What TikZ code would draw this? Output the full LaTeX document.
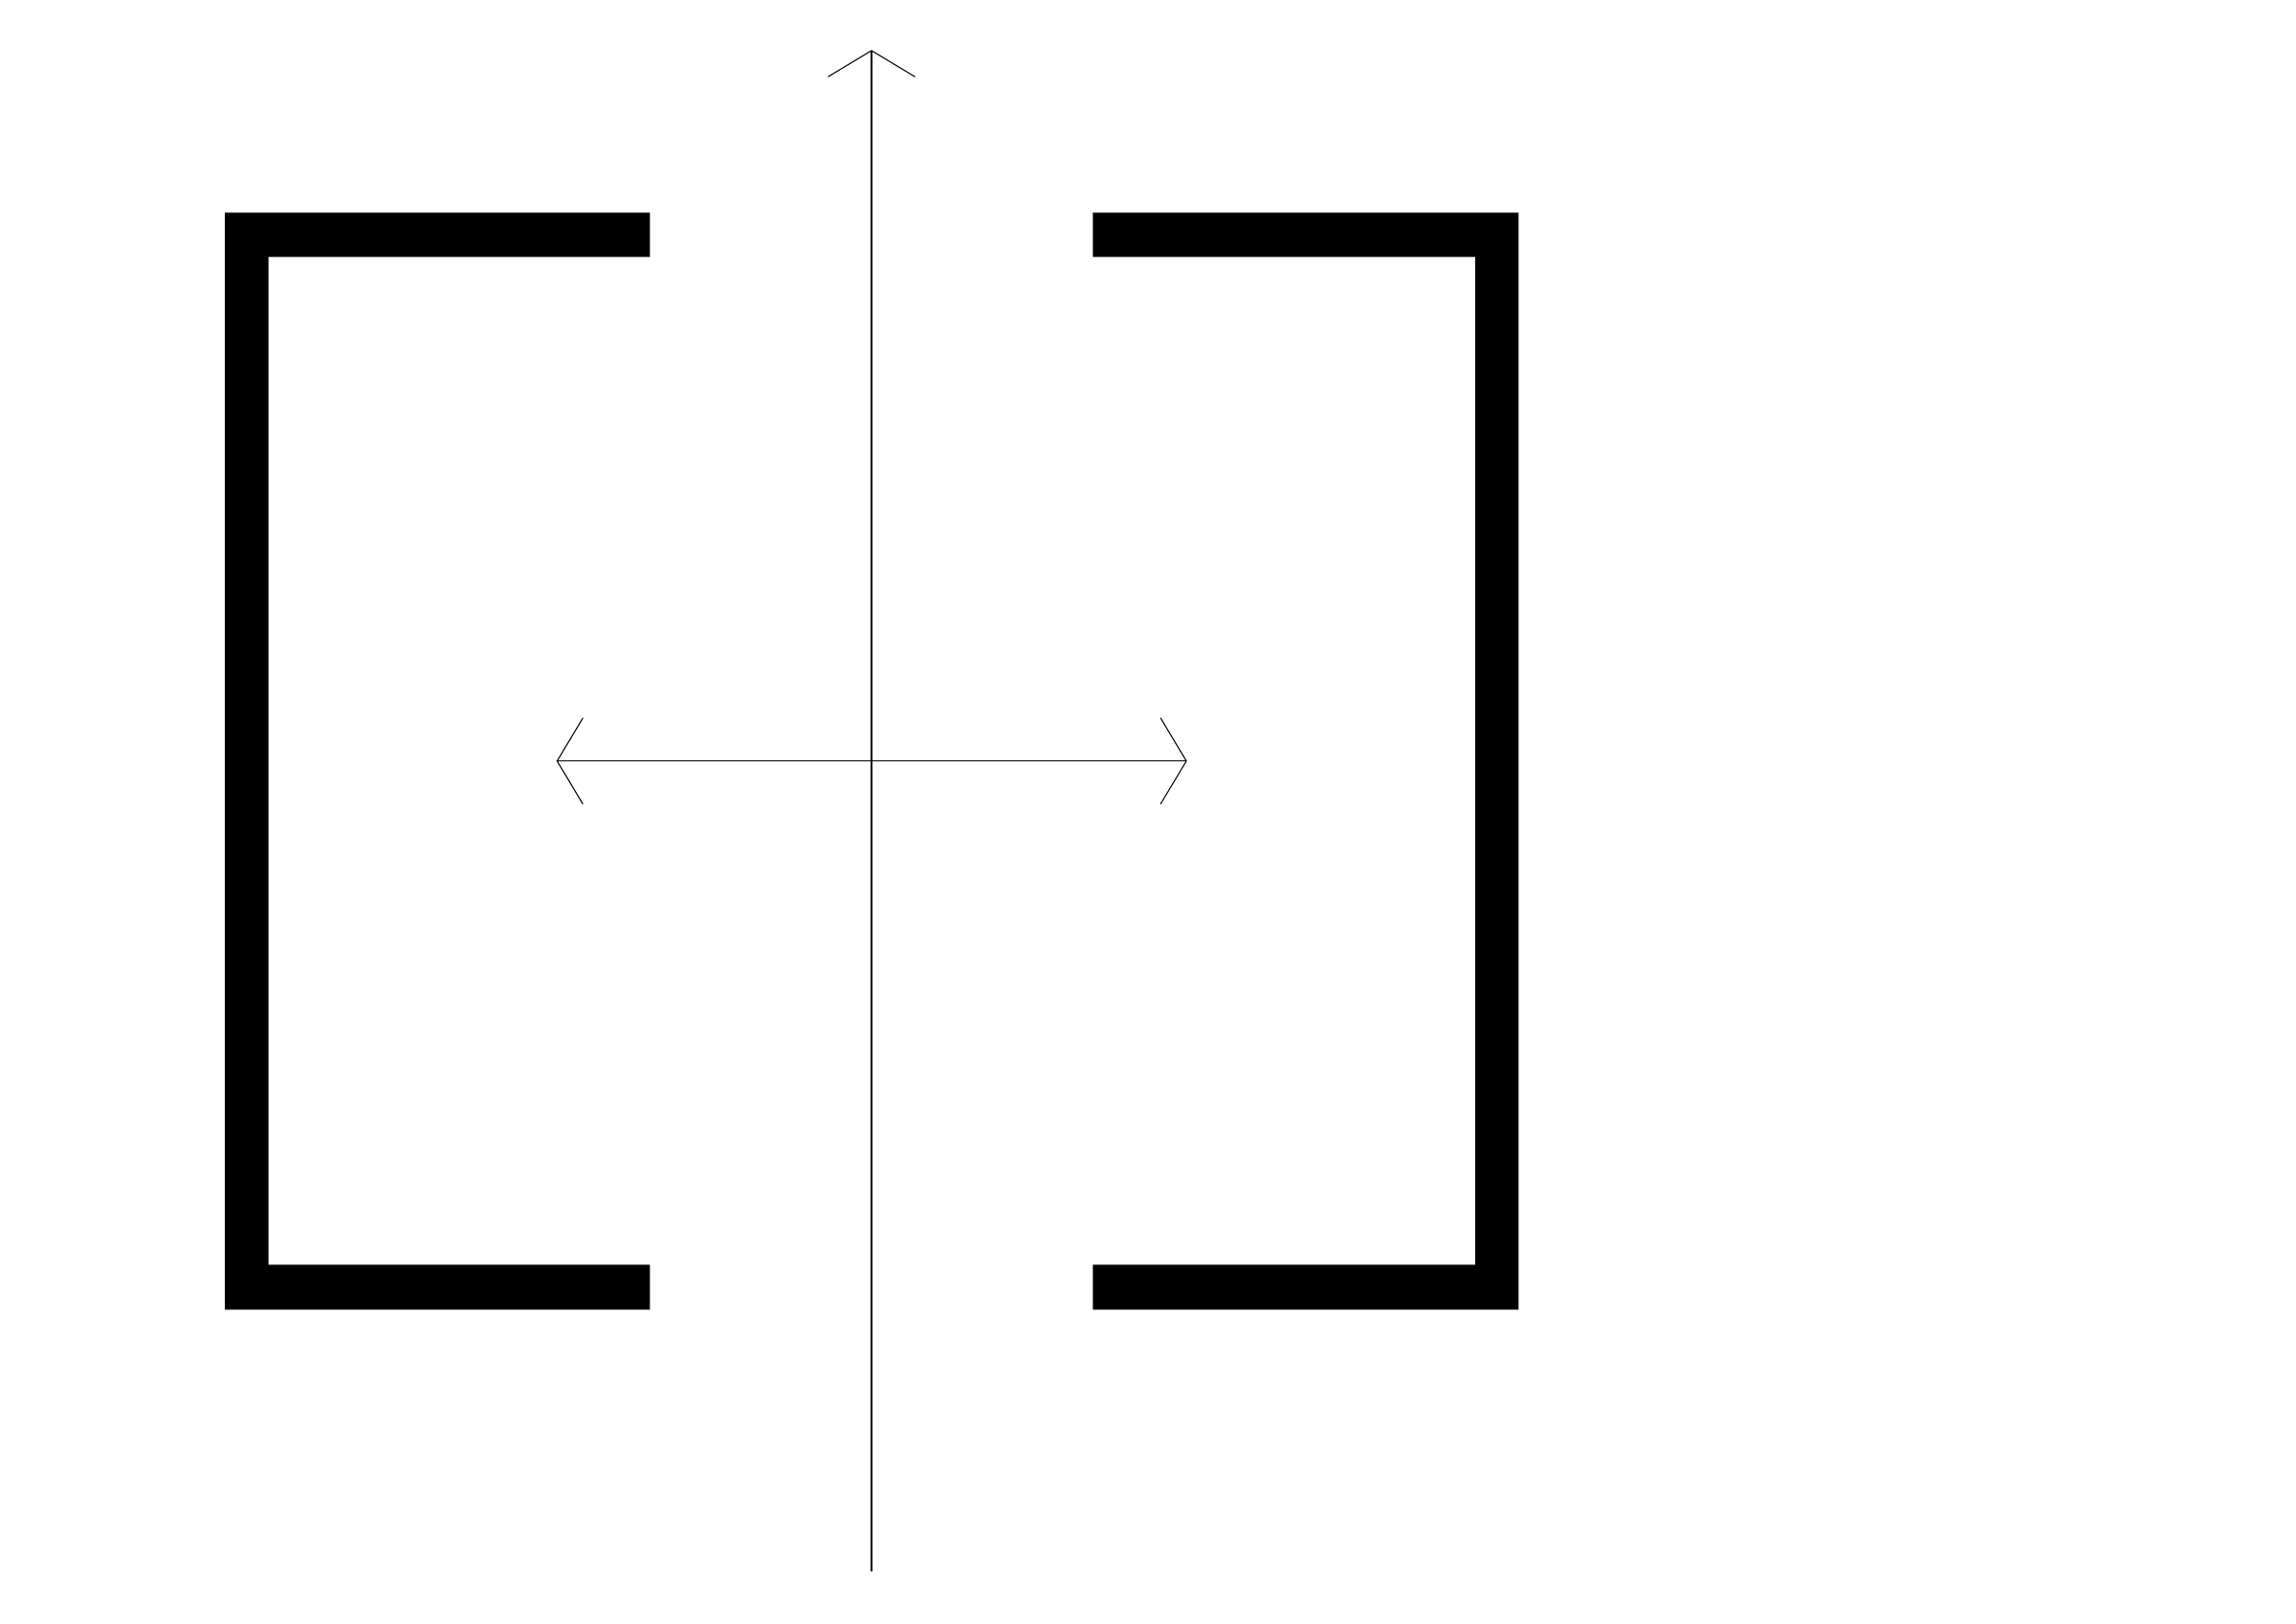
\documentclass[tikz,border=0pt]{standalone}
\usetikzlibrary{arrows.meta}
\begin{document}
\begin{tikzpicture}
    \useasboundingbox (0,0) rectangle (24,16.97);
    \tikzset{vtip/.tip={Straight Barb[length=2.74mm,width=9.1mm]},
             htip/.tip={Straight Barb[length=2.7mm,width=9mm]}}
    % left and right brackets
    \fill[black] (2.35,14.747) -- (6.793,14.747) -- (6.793,14.283) -- (2.807,14.283) -- (2.807,3.747) -- (6.793,3.747) -- (6.793,3.277) -- (2.35,3.277) -- cycle;
    \fill[black] (15.873,14.747) -- (11.423,14.747) -- (11.423,14.283) -- (15.42,14.283) -- (15.42,3.747) -- (11.423,3.747) -- (11.423,3.277) -- (15.873,3.277) -- cycle;
    % axes
    \coordinate (vbot) at (9.11,0.537);
    \coordinate (vtop) at (9.11,16.447);
    \coordinate (hleft) at (5.817,9.013);
    \coordinate (hright) at (12.407,9.013);
    \draw[-vtip, line width=0.3pt] (vbot) -- (vtop);
    \draw[htip-htip, line width=0.3pt] (hleft) -- (hright);
\end{tikzpicture}
\end{document}
